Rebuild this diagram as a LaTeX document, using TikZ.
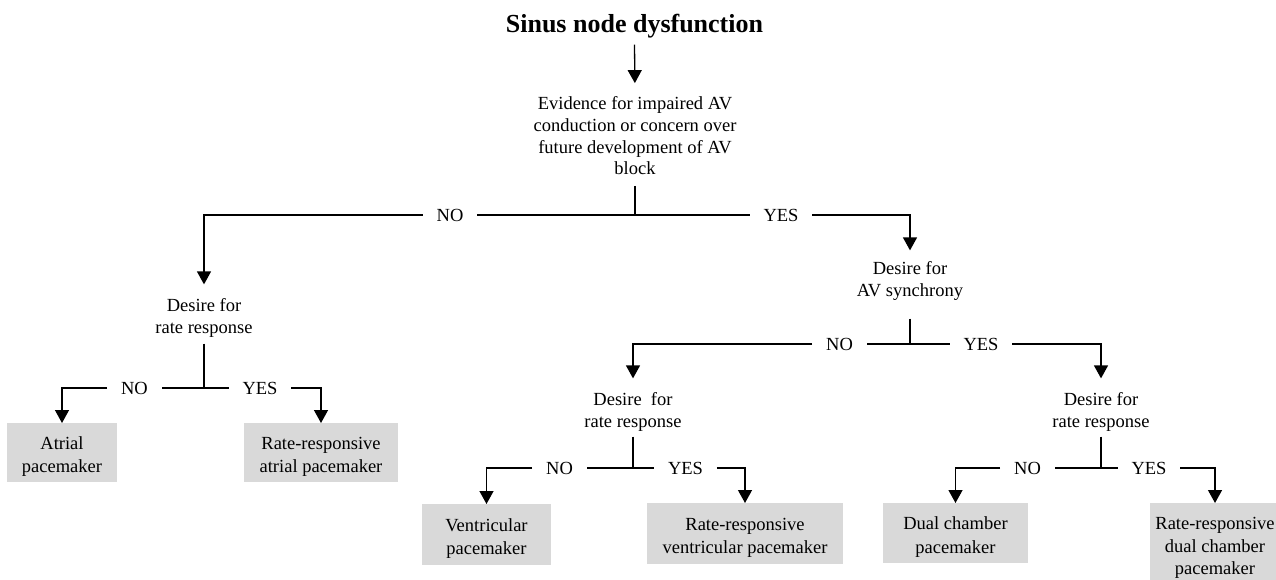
\documentclass[tikz,border=0pt]{standalone}
\usepackage{fontspec}
\setmainfont{Liberation Serif}
\usetikzlibrary{arrows.meta}
\definecolor{boxgray}{RGB}{217,217,217}
\tikzset{
  ln/.style={line width=1.3pt, draw=black},
  arr/.style={ln, -{Triangle[width=14pt,length=13pt]}},
  titletext/.style={inner sep=0pt, outer ysep=7pt, font=\fontsize{26}{30}\selectfont\bfseries},
  txt/.style={inner sep=0pt, outer sep=0pt, align=center, font=\fontsize{18.5}{22.5}\selectfont,
    execute at begin node=\strut, execute at end node=\strut},
  evtxt/.style={txt, font=\fontsize{18.5}{21.7}\selectfont},
  pbox/.style={fill=boxgray, inner sep=0pt, outer sep=0pt, align=center, font=\fontsize{18.5}{23.3}\selectfont,
    text height=47pt, text depth=7pt},
  pbox3/.style={pbox, font=\fontsize{18.5}{22.5}\selectfont, text height=62pt},
  lab/.style={inner xsep=14pt, inner ysep=0pt, outer sep=0pt, font=\fontsize{18.5}{22.5}\selectfont}
}
\begin{document}
\begin{tikzpicture}[x=1pt,y=-1pt]
\useasboundingbox (0,0) rectangle (1276,579);
% title and text nodes
\node[titletext, anchor=base] (t) at (634.5,32) {Sinus node dysfunction};
\node[evtxt] (ev) at (635,138.9) {Evidence for impaired AV\\conduction or concern over\\future development of AV\\block};
\node[txt] (d1) at (204,319.5) {Desire for\\rate response};
\node[txt] (d2) at (910,282.5) {Desire for\\AV synchrony};
\node[txt] (d3) at (633,413.5) {Desire~ for\\rate response};
\node[txt] (d4) at (1101,413.5) {Desire for\\rate response};
% outcome boxes
\node[pbox, minimum width=110pt, minimum height=59pt] (b1) at (62,452.5) {Atrial\\pacemaker};
\node[pbox, minimum width=154pt, minimum height=59pt] (b2) at (321,452.5) {Rate-responsive\\atrial pacemaker};
\node[pbox, minimum width=129pt, minimum height=61pt] (b3) at (486.5,534.5) {Ventricular\\pacemaker};
\node[pbox, minimum width=196pt, minimum height=61pt] (b4) at (745,533.5) {Rate-responsive\\ventricular pacemaker};
\node[pbox, minimum width=145pt, minimum height=60pt] (b5) at (955.5,533) {Dual chamber\\pacemaker};
\node[pbox3, minimum width=130pt, minimum height=88pt] (b6) at (1215,547) {Rate-responsive\\dual chamber\\pacemaker};
% labels
\node[lab] (no1) at (450,215) {NO};
\node[lab] (yes1) at (781,215) {YES};
\node[lab] (no2) at (839.5,344) {NO};
\node[lab] (yes2) at (981,344) {YES};
\node[lab] (no3) at (134.5,388) {NO};
\node[lab] (yes3) at (260,388) {YES};
\node[lab] (no4) at (559.5,468) {NO};
\node[lab] (yes4) at (685.5,468) {YES};
\node[lab] (no5) at (1027.5,468) {NO};
\node[lab] (yes5) at (1149,468) {YES};
% junctions
\coordinate (j1) at (635,215);
\coordinate (j2) at (910,344);
\coordinate (j3) at (204,388);
\coordinate (j4) at (633,468);
\coordinate (j5) at (1101,468);
% connectors
\draw[arr, shorten >=13.5pt] (t.south) -- (ev.north);
\draw[ln, shorten <=4.6pt] (ev.south) -- (j1);
\draw[ln] (j1) -- (no1.east);
\draw[ln] (j1) -- (yes1.west);
\draw[arr, shorten >=14pt] (no1.west) -| (d1.north);
\draw[arr, shorten >=11pt] (yes1.east) -| (d2.north);

\draw[ln, shorten <=15pt] (d2.south) -- (j2);
\draw[ln] (j2) -- (no2.east);
\draw[ln] (j2) -- (yes2.west);
\draw[arr, shorten >=14pt] (no2.west) -| (d3.north);
\draw[arr, shorten >=14pt] (yes2.east) -| (d4.north);

\draw[ln, shorten <=3pt] (d1.south) -- (j3);
\draw[ln] (j3) -- (no3.east);
\draw[ln] (j3) -- (yes3.west);
\draw[arr] (no3.west) -| (b1.north);
\draw[arr] (yes3.east) -| (b2.north);

\draw[ln, shorten <=2pt] (d3.south) -- (j4);
\draw[ln] (j4) -- (no4.east);
\draw[ln] (j4) -- (yes4.west);
\draw[arr] (no4.west) -| (b3.north);
\draw[arr] (yes4.east) -| (b4.north);

\draw[ln, shorten <=2pt] (d4.south) -- (j5);
\draw[ln] (j5) -- (no5.east);
\draw[ln] (j5) -- (yes5.west);
\draw[arr] (no5.west) -| (b5.north);
\draw[arr] (yes5.east) -| (b6.north);
\end{tikzpicture}
\end{document}
